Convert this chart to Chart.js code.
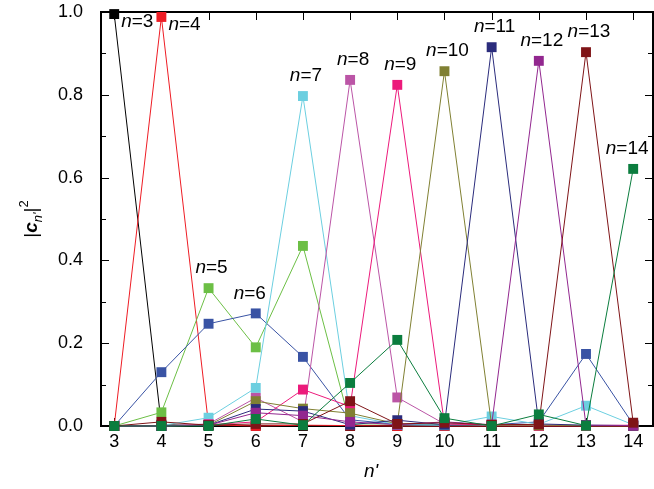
<!DOCTYPE html>
<html>
<head>
<meta charset="utf-8">
<script src="https://cdn.jsdelivr.net/npm/chart.js@4/dist/chart.umd.min.js"></script>
<style>
html,body{margin:0;padding:0;background:#fff;}
#wrap{width:654px;height:489px;}
</style>
</head>
<body>
<div id="wrap"><canvas id="c" width="654" height="489"></canvas></div>
<script>
// ---- data ----
const nPrime = [3, 4, 5, 6, 7, 8, 9, 10, 11, 12, 13, 14];
const yTicks = [0.0, 0.2, 0.4, 0.6, 0.8, 1.0];
const seriesN = [3, 4, 5, 6, 7, 8, 9, 10, 11, 12, 13, 14];

const n3  = [0.995, 0.003, 0.001, 0.001, 0.000, 0.000, 0.000, 0.000, 0.000, 0.000, 0.000, 0.000];
const n4  = [0.000, 0.988, 0.003, 0.000, 0.002, 0.001, 0.000, 0.000, 0.000, 0.000, 0.000, 0.000];
const n5  = [0.000, 0.033, 0.333, 0.190, 0.435, 0.005, 0.005, 0.003, 0.002, 0.002, 0.001, 0.001];
const n6  = [0.000, 0.130, 0.247, 0.272, 0.167, 0.015, 0.004, 0.002, 0.003, 0.010, 0.174, 0.004];
const n7  = [0.000, 0.001, 0.020, 0.092, 0.797, 0.025, 0.003, 0.002, 0.023, 0.004, 0.049, 0.003];
const n8  = [0.000, 0.000, 0.005, 0.068, 0.010, 0.836, 0.069, 0.005, 0.002, 0.001, 0.001, 0.001];
const n9  = [0.000, 0.000, 0.003, 0.010, 0.088, 0.047, 0.824, 0.005, 0.003, 0.002, 0.001, 0.002];
const n10 = [0.000, 0.000, 0.002, 0.060, 0.042, 0.031, 0.005, 0.857, 0.002, 0.002, 0.001, 0.001];
const n11 = [0.000, 0.000, 0.002, 0.041, 0.036, 0.003, 0.014, 0.003, 0.915, 0.005, 0.002, 0.001];
const n12 = [0.000, 0.000, 0.002, 0.032, 0.025, 0.010, 0.003, 0.010, 0.003, 0.882, 0.002, 0.001];
const n13 = [0.000, 0.010, 0.002, 0.005, 0.005, 0.060, 0.005, 0.008, 0.003, 0.004, 0.903, 0.008];
const n14 = [0.000, 0.000, 0.000, 0.017, 0.002, 0.104, 0.208, 0.019, 0.000, 0.028, 0.001, 0.621];

const seriesValues = [n3, n4, n5, n6, n7, n8, n9, n10, n11, n12, n13, n14];

// ---- styles ----
const colors = ['#000000', '#ee1c24', '#6cbf45', '#3953a4', '#6ccfe0', '#bb55a6',
                '#ec1a7b', '#808033', '#2b2c7c', '#92278f', '#7f1417', '#0b7d3e'];
const labelSide = ['right', 'right', 'above', 'aboveLeft', 'above', 'above',
                   'above', 'above', 'above', 'above', 'above', 'aboveLeft'];
const FONT = '"Liberation Sans", Arial, Helvetica, sans-serif';

const datasets = seriesValues.map((vals, i) => ({
  label: 'n=' + seriesN[i],
  data: nPrime.map((x, j) => ({ x: x, y: vals[j] })),
  borderColor: colors[i],
  backgroundColor: colors[i],
  borderWidth: 1,
  pointStyle: 'rect',
  pointRadius: 7,
  pointBorderWidth: 0,
  pointBackgroundColor: colors[i],
  tension: 0,
  clip: false,
  order: seriesValues.length - i
}));

const framePlugin = {
  id: 'frame',
  beforeDatasetsDraw(chart) {
    const ctx = chart.ctx, a = chart.chartArea;
    const xs = chart.scales.x, ys = chart.scales.y;
    ctx.save();
    ctx.strokeStyle = '#000';
    ctx.lineWidth = 1;
    nPrime.forEach(v => {
      const px = Math.round(xs.getPixelForValue(v)) + 0.5;
      ctx.beginPath();
      ctx.moveTo(px, a.bottom); ctx.lineTo(px, a.bottom - 8);
      ctx.moveTo(px, a.top); ctx.lineTo(px, a.top + 8);
      ctx.stroke();
    });
    for (let k = 0; k <= 10; k++) {
      const v = k / 10;
      const py = Math.round(ys.getPixelForValue(v)) + 0.5;
      const len = (k % 2 === 0) ? 8 : 5;
      ctx.beginPath();
      ctx.moveTo(a.left, py); ctx.lineTo(a.left + len, py);
      ctx.moveTo(a.right, py); ctx.lineTo(a.right - len, py);
      ctx.stroke();
    }
    ctx.lineWidth = 2;
    ctx.strokeRect(a.left, a.top, a.right - a.left, a.bottom - a.top);
    ctx.fillStyle = '#000';
    ctx.font = '18px ' + FONT;
    ctx.textAlign = 'center';
    ctx.textBaseline = 'middle';
    nPrime.forEach(v => {
      ctx.fillText(String(v), xs.getPixelForValue(v), a.bottom + 16);
    });
    ctx.restore();
  },
  afterDraw(chart) {
    const ctx = chart.ctx, a = chart.chartArea;
    const xs = chart.scales.x, ys = chart.scales.y;
    ctx.save();
    ctx.fillStyle = '#000';
    ctx.textBaseline = 'middle';
    seriesValues.forEach((vals, i) => {
      const j = nPrime.indexOf(seriesN[i]);
      const px = xs.getPixelForValue(nPrime[j]);
      const py = ys.getPixelForValue(vals[j]);
      const italic = 'italic 19px ' + FONT, normal = '19px ' + FONT;
      ctx.font = italic; const w1 = ctx.measureText('n').width;
      ctx.font = normal; const w2 = ctx.measureText('=' + seriesN[i]).width;
      let x0, y0;
      if (labelSide[i] === 'right') { x0 = px + 7; y0 = py + 8; }
      else if (labelSide[i] === 'aboveLeft') { x0 = px - 6 - (w1 + w2) / 2; y0 = py - 20; }
      else { x0 = px + 3 - (w1 + w2) / 2; y0 = py - 20; }
      ctx.font = italic; ctx.fillText('n', x0, y0);
      ctx.font = normal; ctx.fillText('=' + seriesN[i], x0 + w1, y0);
    });
    ctx.font = 'italic 19px ' + FONT;
    ctx.textAlign = 'center';
    ctx.textBaseline = 'alphabetic';
    ctx.fillText("n'", (a.left + a.right) / 2 - 6, 477);
    ctx.translate(30, (a.top + a.bottom) / 2);
    ctx.rotate(-Math.PI / 2);
    ctx.textAlign = 'left';
    const parts = [
      { t: '|', f: '19px ' + FONT, dy: 0 },
      { t: 'c', f: 'italic bold 19px ' + FONT, dy: 0 },
      { t: "n'", f: 'italic 13px ' + FONT, dy: 5 },
      { t: '|', f: '19px ' + FONT, dy: 0 },
      { t: '2', f: '13px ' + FONT, dy: -9 }
    ];
    let tw = 0;
    parts.forEach(p => { ctx.font = p.f; p.w = ctx.measureText(p.t).width; tw += p.w; });
    let cx = -tw / 2;
    parts.forEach(p => { ctx.font = p.f; ctx.fillText(p.t, cx, 7 + p.dy); cx += p.w; });
    ctx.restore();
  }
};

new Chart(document.getElementById('c'), {
  type: 'line',
  data: { datasets: datasets },
  plugins: [framePlugin],
  options: {
    responsive: false,
    animation: false,
    devicePixelRatio: 1,
    layout: { autoPadding: false, padding: { top: 12, right: 1, left: 0, bottom: 0 } },
    plugins: { legend: { display: false }, tooltip: { enabled: false } },
    scales: {
      x: {
        type: 'linear', min: 2.72, max: 14.42,
        afterBuildTicks: s => { s.ticks = nPrime.map(v => ({ value: v })); },
        afterFit: s => { s.height = 63; s.paddingLeft = 0; s.paddingRight = 0; },
        grid: { display: false },
        border: { display: false },
        ticks: { display: false }
      },
      y: {
        type: 'linear', min: 0, max: 1,
        afterBuildTicks: s => { s.ticks = yTicks.map(v => ({ value: v })); },
        afterFit: s => { s.width = 101; s.paddingTop = 0; s.paddingBottom = 0; },
        grid: { display: false },
        border: { display: false },
        ticks: { color: '#000', font: { family: FONT, size: 18 }, padding: 10,
                 callback: v => Number(v).toFixed(1) }
      }
    }
  }
});
</script>
</body>
</html>
